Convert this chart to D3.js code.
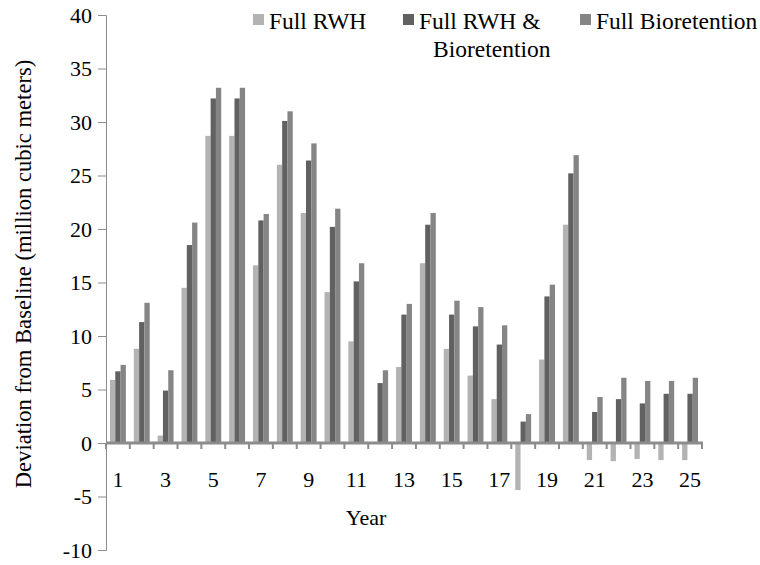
<!DOCTYPE html>
<html>
<head>
<meta charset="utf-8">
<script src="https://cdn.jsdelivr.net/npm/d3@7"></script>
<style>
  body { margin: 0; background: #fff; }
</style>
</head>
<body>
<div class="chart"></div>
<script>
// chart data
var years = d3.range(1, 26);
var seriesNames = ["Full RWH", "Full RWH & Bioretention", "Full Bioretention"];
var fullRWH = [5.9, 8.8, 0.7, 14.5, 28.7, 28.7, 16.6, 26.0, 21.5, 14.1, 9.5, 0, 7.1, 16.8, 8.8, 6.3, 4.1, -4.4, 7.8, 20.4, -1.6, -1.7, -1.5, -1.6, -1.6];
var fullRWHBio = [6.7, 11.3, 4.9, 18.5, 32.2, 32.2, 20.8, 30.1, 26.4, 20.2, 15.1, 5.6, 12.0, 20.4, 12.0, 10.9, 9.2, 2.0, 13.7, 25.2, 2.9, 4.1, 3.7, 4.6, 4.6];
var fullBio = [7.3, 13.1, 6.8, 20.6, 33.2, 33.2, 21.4, 31.0, 28.0, 21.9, 16.8, 6.8, 13.0, 21.5, 13.3, 12.7, 11.0, 2.7, 14.8, 26.9, 4.3, 6.1, 5.8, 5.8, 6.1];
var yTicks = d3.range(-10, 41, 5);
var xLabels = [1, 3, 5, 7, 9, 11, 13, 15, 17, 19, 21, 23, 25];

var colors = ["#b3b3b3", "#616161", "#858585"];
var serif = "'Liberation Serif', 'Times New Roman', serif";

var svgWidth = 760;
var svgHeight = 565;

var svg = d3.select(".chart")
  .append("svg")
  .attr("width", svgWidth)
  .attr("height", svgHeight)
  .style("font-family", serif);

// scales
var x = d3.scaleBand()
  .domain(years)
  .range([106, 702]);

var xSub = d3.scaleBand()
  .domain(seriesNames)
  .range([0, x.bandwidth()])
  .paddingOuter(0.75);

var y = d3.scaleLinear()
  .domain([-10, 40])
  .range([550, 15]);

// build rows for each year
var rows = years.map((yr, i) => ({
  year: yr,
  values: [fullRWH[i], fullRWHBio[i], fullBio[i]]
}));

// y axis
var yAxis = svg.append("g")
  .attr("transform", "translate(106,0)")
  .call(d3.axisLeft(y).tickValues(yTicks).tickSize(8).tickPadding(6).tickFormat(d => String(d)));
yAxis.attr("font-family", serif);
yAxis.select(".domain").attr("stroke", "#8c8c8c");
yAxis.selectAll(".tick line").attr("stroke", "#8c8c8c");
yAxis.selectAll(".tick text")
  .style("font-family", serif)
  .style("font-size", "22px")
  .attr("fill", "#000");

// bars
var groups = svg.append("g")
  .selectAll("g")
  .data(rows)
  .enter()
  .append("g")
  .attr("transform", d => `translate(${x(d.year)},0)`);

groups.selectAll("rect")
  .data(d => d.values.map((v, k) => ({ key: seriesNames[k], value: v, k: k })))
  .enter()
  .append("rect")
  .attr("x", d => xSub(d.key))
  .attr("width", xSub.bandwidth())
  .attr("y", d => y(Math.max(0, d.value)))
  .attr("height", d => Math.abs(y(d.value) - y(0)))
  .attr("fill", d => colors[d.k]);

// x axis line at zero and tick marks between categories
var xAxisG = svg.append("g");
xAxisG.append("line")
  .attr("x1", 106)
  .attr("x2", 703)
  .attr("y1", y(0))
  .attr("y2", y(0))
  .attr("stroke", "#8c8c8c")
  .attr("stroke-width", 3);

var boundaries = years.map(d => x(d)).concat([x.range()[1]]);
xAxisG.selectAll(".xtick")
  .data(boundaries)
  .enter()
  .append("line")
  .attr("class", "xtick")
  .attr("x1", d => d)
  .attr("x2", d => d)
  .attr("y1", y(0))
  .attr("y2", y(0) + 6)
  .attr("stroke", "#8c8c8c")
  .attr("stroke-width", 2);

// x labels (odd years)
var xLab = svg.append("g")
  .attr("transform", `translate(0, ${y(0)})`)
  .call(d3.axisBottom(x).tickValues(xLabels).tickSize(0).tickPadding(28));
xLab.attr("font-family", serif);
xLab.select(".domain").remove();
xLab.selectAll(".tick text")
  .style("font-family", serif)
  .style("font-size", "22px")
  .attr("fill", "#000");

// axis titles
svg.append("text")
  .attr("x", 366)
  .attr("y", 525)
  .attr("text-anchor", "middle")
  .style("font-size", "22px")
  .text("Year");

svg.append("text")
  .attr("transform", "translate(31, 274) rotate(-90)")
  .attr("text-anchor", "middle")
  .style("font-size", "22.6px")
  .text("Deviation from Baseline (million cubic meters)");

// legend
var legend = [
  { name: "Full RWH", lines: ["Full RWH"], x: 253, color: colors[0] },
  { name: "Full RWH & Bioretention", lines: ["Full RWH &", "Bioretention"], x: 403, color: colors[1] },
  { name: "Full Bioretention", lines: ["Full Bioretention"], x: 580, color: colors[2] }
];

var legendG = svg.append("g");
legend.forEach(item => {
  legendG.append("rect")
    .attr("x", item.x)
    .attr("y", 14)
    .attr("width", 11)
    .attr("height", 11)
    .attr("fill", item.color);
  var t = legendG.append("text")
    .attr("x", item.x + 16)
    .attr("y", 29)
    .style("font-size", "23.5px");
  t.append("tspan").text(item.lines[0]);
  if (item.lines.length > 1) {
    t.append("tspan")
      .attr("x", item.x + 30)
      .attr("dy", 28)
      .text(item.lines[1]);
  }
});
</script>
</body>
</html>
